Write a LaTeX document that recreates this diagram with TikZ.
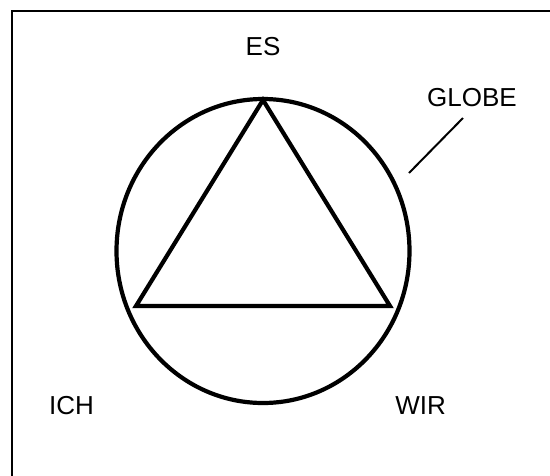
\documentclass[tikz,border=0pt]{standalone}
\usepackage{fontspec}
\setmainfont{Liberation Sans}
\usetikzlibrary{shapes.geometric}
\begin{document}
\begin{tikzpicture}[x=1pt,y=-1pt,
  lbl/.style={font=\fontsize{26}{30}\selectfont, inner sep=0pt, anchor=base},
  heavy/.style={line width=4.2pt, line join=miter},
  thin/.style={line width=2pt}]
\useasboundingbox (0,0) rectangle (550,475);
% frame (only top and left edges fall inside the picture)
\draw[thin] (12,480) -- (12,11) -- (560,11);
% globe
\node[draw, heavy, ellipse, minimum width=293pt, minimum height=304pt, inner sep=0pt] (globe) at (263,251) {};
% triangle vertices
\coordinate (es) at (263,100);
\coordinate (ich) at (136,306);
\coordinate (wir) at (390,306);
\draw[heavy] (es) -- (ich) -- (wir) -- cycle;
% labels
\node[lbl] (tES) at (263,55.4) {ES};
\node[lbl] (tICH) at (71.6,414.7) {ICH};
\node[lbl] (tWIR) at (420.6,414.7) {WIR};
\node[lbl] (tGLOBE) at (472,106.7) {GLOBE};
% leader
\coordinate (l1) at (463,118);
\coordinate (l2) at (409,173);
\draw[thin] (l1) -- (l2);
\end{tikzpicture}
\end{document}
